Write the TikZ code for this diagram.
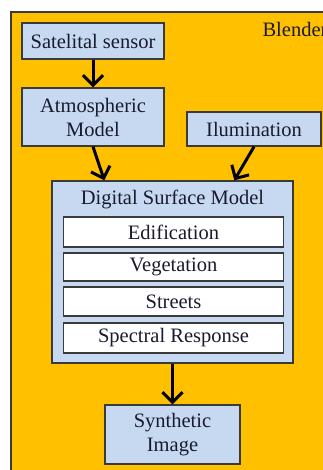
\documentclass[tikz,border=0pt]{standalone}
\usepackage{fontspec}
\setmainfont{Liberation Serif}
\usetikzlibrary{arrows.meta}
\definecolor{orangebg}{HTML}{FFC000}
\definecolor{boxblue}{HTML}{C6D9F1}
\definecolor{edge}{HTML}{3A3A3A}
\definecolor{txt}{HTML}{1A1A2E}
\begin{document}
\begin{tikzpicture}[x=1pt,y=-1pt,
  lbl/.style={font=\fontsize{20.5}{24}\selectfont,text=txt},
  box/.style={lbl,draw=edge,line width=1.4pt,fill=boxblue,inner sep=0pt,align=center},
  inbox/.style={box,fill=white},
  flow/.style={line width=3pt,-{Straight Barb[length=10pt,width=20pt,line width=3pt]}}]
\useasboundingbox (0,0) rectangle (323,470);
\clip (0,0) rectangle (323,470);
\fill[white] (0,0) rectangle (323,470);
\draw[edge,fill=orangebg,line width=1.4pt] (11,12) rectangle (345,490);
\node[lbl,anchor=west] (bl) at (259,29) {Blender};
\node[box,minimum width=142pt,minimum height=36pt] (sat) at (93,41) {Satelital sensor};
\node[box,minimum width=142pt,minimum height=58pt] (atm) at (93,117) {Atmospheric\\Model};
\node[box,minimum width=134pt,minimum height=34pt] (ilu) at (254,129) {Ilumination};
\node[box,minimum width=241pt,minimum height=182pt] (dsm) at (172.5,272) {};
\node[lbl] (dsmt) at (172.5,199) {Digital Surface Model};
\node[inbox,minimum width=220pt,minimum height=30pt] (edi) at (173.5,232) {Edification};
\node[inbox,minimum width=220pt,minimum height=28pt] (veg) at (173.5,267) {Vegetation};
\node[inbox,minimum width=220pt,minimum height=29pt] (str) at (173.5,301.5) {Streets};
\node[inbox,minimum width=220pt,minimum height=30pt] (spe) at (173.5,338) {Spectral Response};
\node[box,minimum width=135pt,minimum height=59pt] (syn) at (172.5,434.5) {Synthetic\\Image};
\draw[flow] (sat.south) -- (atm.north);
\draw[flow] (atm.south) -- ([xshift=53pt]dsm.north west);
\draw[flow] (ilu.south) -- ([xshift=183pt]dsm.north west);
\draw[flow] (dsm.south) -- (syn.north);
\end{tikzpicture}
\end{document}
